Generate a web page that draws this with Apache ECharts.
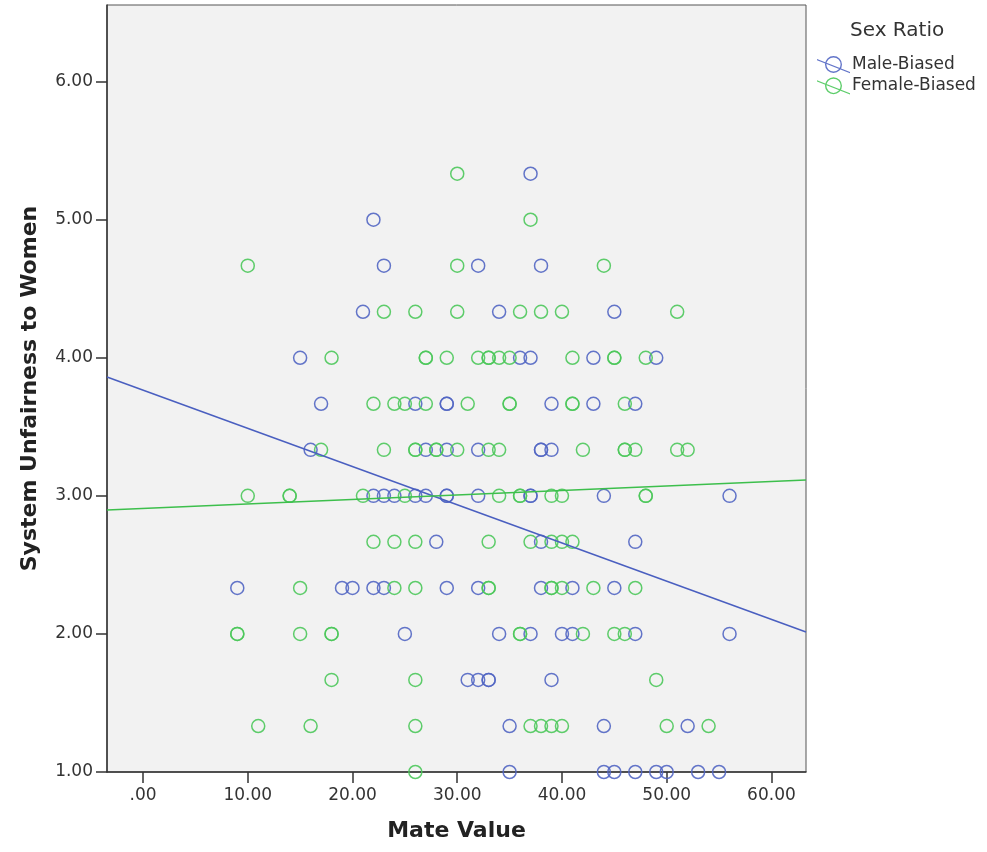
<!DOCTYPE html>
<html>
<head>
<meta charset="utf-8">
<script src="https://cdn.jsdelivr.net/npm/echarts@6/dist/echarts.min.js"></script>
<style>html,body{margin:0;padding:0;background:#fff}#c{width:987px;height:852px}</style>
</head>
<body>
<div id="c"></div>
<script>
// Tick positions
var xTicks = [0, 10, 20, 30, 40, 50, 60];
var yTicks = [1, 2, 3, 4, 5, 6];

// Male-Biased points [Mate Value, System Unfairness]
var maleBiased = [
  [37,5.333],
  [22,5],
  [23,4.667],[32,4.667],[38,4.667],
  [21,4.333],[34,4.333],[45,4.333],
  [15,4],[36,4],[37,4],[43,4],[49,4],
  [17,3.667],[26,3.667],[29,3.667],[29,3.667],[39,3.667],[43,3.667],[47,3.667],
  [16,3.333],[27,3.333],[29,3.333],[32,3.333],[38,3.333],[38,3.333],[39,3.333],
  [22,3],[23,3],[24,3],[26,3],[27,3],[29,3],[29,3],[32,3],[37,3],[37,3],[44,3],[56,3],
  [28,2.667],[38,2.667],[47,2.667],
  [9,2.333],[19,2.333],[20,2.333],[22,2.333],[23,2.333],[29,2.333],[32,2.333],[38,2.333],[41,2.333],[45,2.333],
  [25,2],[34,2],[37,2],[40,2],[41,2],[47,2],[56,2],
  [31,1.667],[32,1.667],[33,1.667],[33,1.667],[39,1.667],
  [35,1.333],[44,1.333],[52,1.333],
  [35,1],[44,1],[45,1],[47,1],[49,1],[50,1],[53,1],[55,1]
];

// Female-Biased points [Mate Value, System Unfairness]
var femaleBiased = [
  [30,5.333],
  [37,5],
  [10,4.667],[30,4.667],[44,4.667],
  [23,4.333],[26,4.333],[30,4.333],[36,4.333],[38,4.333],[40,4.333],[51,4.333],
  [18,4],[27,4],[27,4],[29,4],[32,4],[33,4],[33,4],[34,4],[35,4],[41,4],[45,4],[45,4],[48,4],
  [22,3.667],[24,3.667],[25,3.667],[27,3.667],[31,3.667],[35,3.667],[35,3.667],[41,3.667],[41,3.667],[46,3.667],
  [17,3.333],[23,3.333],[26,3.333],[26,3.333],[28,3.333],[28,3.333],[30,3.333],[33,3.333],[34,3.333],[42,3.333],[46,3.333],[46,3.333],[47,3.333],[51,3.333],[52,3.333],
  [10,3],[14,3],[14,3],[21,3],[25,3],[34,3],[36,3],[36,3],[39,3],[40,3],[48,3],[48,3],
  [22,2.667],[24,2.667],[26,2.667],[33,2.667],[37,2.667],[39,2.667],[40,2.667],[41,2.667],
  [15,2.333],[24,2.333],[26,2.333],[33,2.333],[33,2.333],[39,2.333],[39,2.333],[40,2.333],[43,2.333],[47,2.333],
  [9,2],[9,2],[15,2],[18,2],[18,2],[36,2],[36,2],[42,2],[45,2],[46,2],
  [18,1.667],[26,1.667],[49,1.667],
  [11,1.333],[16,1.333],[26,1.333],[37,1.333],[38,1.333],[39,1.333],[40,1.333],[50,1.333],[54,1.333],
  [26,1]
];

// Fit lines (endpoints read at the axis edges)
var maleFit = [[-3.44, 3.861], [63.3, 2.014]];
var femaleFit = [[-3.44, 2.898], [63.3, 3.115]];

var BLUE = '#5266c3';
var GREEN = '#4cc85b';
var ringPath = 'path://M0,4 L33,17 L33,18.3 L0,5.3 Z M16.5,1 A8.5,8.5 0 1,1 16.49,1 Z M16.5,2.4 A7.1,7.1 0 1,0 16.51,2.4 Z';

var chart = echarts.init(document.getElementById('c'), null, {renderer: 'canvas'});
chart.setOption({
  backgroundColor: '#ffffff',
  animation: false,
  title: {
    text: 'Sex Ratio', left: 845, top: 16,
    textStyle: {fontFamily: 'DejaVu Sans', fontSize: 20, fontWeight: 'normal', color: '#333'}
  },
  legend: {
    orient: 'vertical', left: 812, top: 51, itemWidth: 33, itemHeight: 19, itemGap: 4,
    textStyle: {fontFamily: 'DejaVu Sans', fontSize: 17, color: '#333', padding: [0,0,0,-3]},
    data: [
      {name: 'Male-Biased', icon: ringPath, itemStyle: {color: BLUE, borderWidth: 0}},
      {name: 'Female-Biased', icon: ringPath, itemStyle: {color: GREEN, borderWidth: 0}}
    ]
  },
  grid: {
    left: 107, right: 181, top: 5, bottom: 80,
    show: true, backgroundColor: '#f2f2f2', borderColor: '#555', borderWidth: 1
  },
  xAxis: {
    type: 'value', min: -3.44, max: 63.3,
    name: 'Mate Value', nameLocation: 'middle', nameGap: 48,
    nameTextStyle: {fontFamily: 'DejaVu Sans', fontSize: 22, fontWeight: 'bold', color: '#222'},
    axisLine: {show: true, onZero: false, lineStyle: {color: '#333', width: 1.5}},
    axisTick: {show: true, customValues: xTicks, length: 11, lineStyle: {color: '#333', width: 1.5}},
    axisLabel: {customValues: xTicks, margin: 15, fontFamily: 'DejaVu Sans', fontSize: 17, color: '#333',
      formatter: function (v) { return v === 0 ? '.00' : v.toFixed(2); }},
    splitLine: {show: false}
  },
  yAxis: {
    type: 'value', min: 1, max: 6.555,
    name: 'System Unfairness to Women', nameLocation: 'middle', nameGap: 66,
    nameTextStyle: {fontFamily: 'DejaVu Sans', fontSize: 22, fontWeight: 'bold', color: '#222'},
    axisLine: {show: true, onZero: false, lineStyle: {color: '#333', width: 1.5}},
    axisTick: {show: true, customValues: yTicks, length: 11, lineStyle: {color: '#333', width: 1.5}},
    axisLabel: {customValues: yTicks, margin: 14, fontFamily: 'DejaVu Sans', fontSize: 17, color: '#333',
      formatter: function (v) { return v.toFixed(2); }},
    splitLine: {show: false}
  },
  series: [
    {name: 'Male-Biased', type: 'scatter', data: maleBiased, symbol: 'circle', symbolSize: 13,
      itemStyle: {color: 'rgba(0,0,0,0)', borderColor: BLUE, borderWidth: 1.5, opacity: 0.9}},
    {name: 'Female-Biased', type: 'scatter', data: femaleBiased, symbol: 'circle', symbolSize: 13,
      itemStyle: {color: 'rgba(0,0,0,0)', borderColor: GREEN, borderWidth: 1.5, opacity: 0.9}},
    {name: 'Male fit', type: 'line', data: maleFit, showSymbol: false, silent: true,
      lineStyle: {color: '#4a5fc0', width: 1.5}, z: 3},
    {name: 'Female fit', type: 'line', data: femaleFit, showSymbol: false, silent: true,
      lineStyle: {color: '#3dbf4c', width: 1.5}, z: 3}
  ]
});
</script>
</body>
</html>
